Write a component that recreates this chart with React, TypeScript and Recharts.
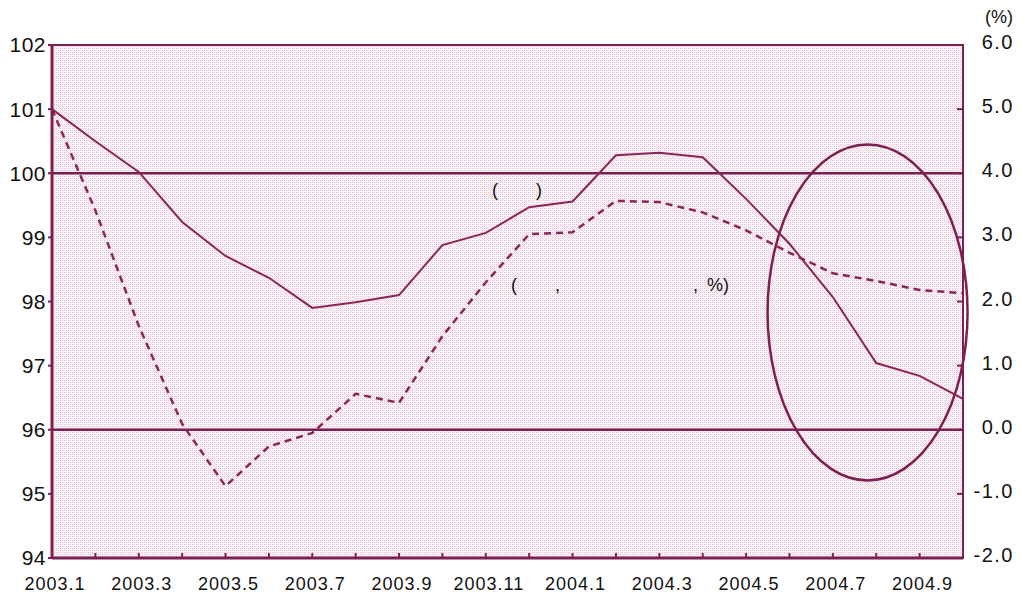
import {
  LineChart,
  Line,
  XAxis,
  YAxis,
  ReferenceLine,
  ReferenceArea,
  ReferenceDot,
} from 'recharts';

const months = [
  '2003.1', '2003.2', '2003.3', '2003.4', '2003.5', '2003.6', '2003.7', '2003.8',
  '2003.9', '2003.10', '2003.11', '2003.12', '2004.1', '2004.2', '2004.3', '2004.4',
  '2004.5', '2004.6', '2004.7', '2004.8', '2004.9', '2004.10',
];

// solid line, left axis
const indexValues = [
  101.0, 100.5, 100.02, 99.24, 98.71, 98.37, 97.9, 97.99, 98.1, 98.88, 99.07,
  99.47, 99.56, 100.28, 100.32, 100.25, 99.6, 98.9, 98.07, 97.04, 96.84, 96.48,
];

// dashed line, right axis (%)
const pctValues = [
  5.0, 3.42, 1.62, 0.09, -0.88, -0.26, -0.05, 0.56, 0.42, 1.46, 2.3,
  3.05, 3.08, 3.57, 3.55, 3.39, 3.11, 2.76, 2.44, 2.32, 2.18, 2.13,
];

const leftTicks = [94, 95, 96, 97, 98, 99, 100, 101, 102];
const rightTicks = [-2, -1, 0, 1, 2, 3, 4, 5, 6];
const monthTicks = months.map((_, i) => i);

const data = months.map((m, i) => ({
  i,
  month: m,
  idx: indexValues[i],
  pct: pctValues[i],
}));

const MAROON = '#7d1f50';
const LINE = '#8a2658';
const FONT = '"Liberation Sans", Arial, sans-serif';

const XTick = (props: any) => {
  const { x, y, payload } = props;
  const i = payload.value;
  const showLabel = i % 2 === 0 && i <= 20;
  return (
    <g>
      {i > 0 && i < 21 && <line x1={x} y1={y} x2={x} y2={y - 5} stroke={MAROON} strokeWidth={2} />}
      {showLabel && (
        <text x={x + 3} y={y + 32} textAnchor="middle" fontSize={18} letterSpacing={1} fill="#111" fontFamily={FONT}>
          {months[i]}
        </text>
      )}
    </g>
  );
};

const RightTick = (props: any) => {
  const { x, y, payload } = props;
  return (
    <g>
      <line x1={x} y1={y} x2={x - 6} y2={y} stroke={MAROON} strokeWidth={2} />
      <text x={x + 51} y={y + 4} textAnchor="end" fontSize={20} letterSpacing={1.5} fill="#111" fontFamily={FONT}>
        {Number(payload.value).toFixed(1)}
      </text>
    </g>
  );
};

const Ellipse = (props: any) => (
  <ellipse cx={props.cx} cy={props.cy} rx={100} ry={168} fill="none" stroke={MAROON} strokeWidth={2.5} />
);

export default function App() {
  return (
    <div style={{ position: 'absolute', left: 0, top: 0, width: 1023, height: 600, background: '#fff', fontFamily: FONT }}>
      <LineChart width={1023} height={600} data={data} margin={{ top: 45, right: 0, bottom: 0, left: 0 }}>
        <defs>
          <pattern id="bgPattern" width="4" height="4" patternUnits="userSpaceOnUse">
            <rect width="4" height="4" fill="#fdf4f9" />
            <rect x="0" y="0" width="1" height="1" fill="#d3cfd1" />
            <rect x="2" y="2" width="1" height="1" fill="#d3cfd1" />
            <rect x="2" y="0" width="1" height="1" fill="#f6c9e1" />
            <rect x="0" y="2" width="1" height="1" fill="#f6c9e1" />
            <rect x="1" y="1" width="1" height="1" fill="#ebe1e7" />
            <rect x="3" y="3" width="1" height="1" fill="#ebe1e7" />
          </pattern>
        </defs>
        <XAxis
          type="number"
          dataKey="i"
          domain={[0, 21]}
          ticks={monthTicks}
          interval={0}
          height={42}
          tickSize={0}
          tickMargin={0}
          tickLine={false}
          tick={<XTick />}
          axisLine={{ stroke: MAROON, strokeWidth: 3 }}
        />
        <YAxis
          yAxisId="left"
          domain={[94, 102]}
          ticks={leftTicks}
          interval={0}
          width={52}
          tickSize={4}
          tickMargin={2}
          tickLine={{ stroke: MAROON, strokeWidth: 2 }}
          axisLine={{ stroke: MAROON, strokeWidth: 3 }}
          tick={{ fontSize: 21, fill: '#111', fontFamily: FONT, letterSpacing: 0.5 }}
        />
        <YAxis
          yAxisId="right"
          orientation="right"
          domain={[-2, 6]}
          ticks={rightTicks}
          interval={0}
          width={60}
          tickSize={0}
          tickMargin={0}
          tickLine={false}
          tick={<RightTick />}
          axisLine={{ stroke: MAROON, strokeWidth: 2 }}
          label={{
            content: (p: any) => (
              <text
                x={p.viewBox.x + p.viewBox.width - 10}
                y={p.viewBox.y - 22}
                textAnchor="end"
                fontSize={18}
                fill="#111"
                fontFamily={FONT}
              >
                (%)
              </text>
            ),
          }}
        />
        <ReferenceArea
          yAxisId="left"
          x1={0}
          x2={21}
          y1={94}
          y2={102}
          fill="url(#bgPattern)"
          fillOpacity={1}
          stroke={MAROON}
          strokeWidth={2}
        />
        <ReferenceLine yAxisId="left" y={100} stroke={MAROON} strokeWidth={2.5} />
        <ReferenceLine yAxisId="left" y={96} stroke={MAROON} strokeWidth={2.5} />
        <Line
          yAxisId="left"
          type="linear"
          dataKey="idx"
          stroke={LINE}
          strokeWidth={2}
          dot={false}
          isAnimationActive={false}
        />
        <Line
          yAxisId="right"
          type="linear"
          dataKey="pct"
          stroke={LINE}
          strokeWidth={2.5}
          strokeDasharray="7 5"
          dot={false}
          isAnimationActive={false}
        />
        <ReferenceDot
          yAxisId="left"
          x={18.8}
          y={97.83}
          r={0}
          ifOverflow="visible"
          shape={<Ellipse />}
        />
      </LineChart>
      <svg
        width={1023}
        height={600}
        style={{ position: 'absolute', left: 0, top: 0, pointerEvents: 'none' }}
      >
        <g fontFamily={FONT} fontSize={18} fill="#111">
          <text x={492} y={196}>(</text>
          <text x={536} y={196}>)</text>
          <text x={511} y={291}>(</text>
          <text x={555} y={291}>,</text>
          <text x={693} y={291}>,</text>
          <text x={707} y={291}>%)</text>
        </g>
      </svg>
    </div>
  );
}
